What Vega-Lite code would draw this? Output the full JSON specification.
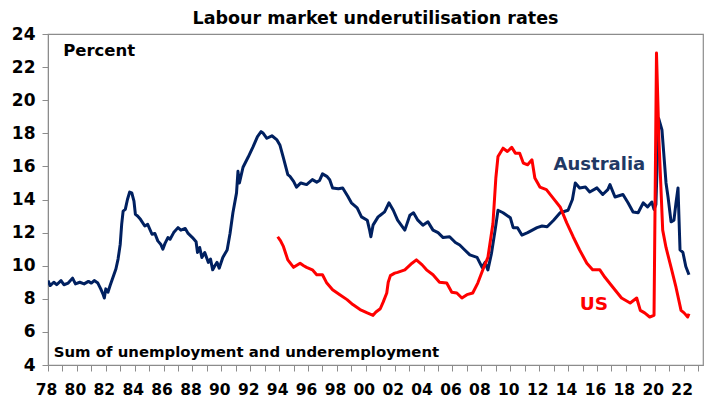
{
  "$schema": "https://vega.github.io/schema/vega-lite/v6.json",
  "width": 655,
  "height": 331,
  "autosize": {"type": "none"},
  "padding": {"left": 48, "top": 34, "right": 17, "bottom": 33},
  "background": "white",
  "config": {"view": {"stroke": "#8c8c8c", "strokeWidth": 1.2}, "axis": {"labelOverlap": false, "labelBound": false, "labelSeparation": -40}},
  "title": {"text": "Labour market underutilisation rates", "font": "DejaVu Sans", "fontSize": 17.5, "fontWeight": "bold", "anchor": "middle", "offset": -2, "color": "black"},
  "datasets": {
    "lines": [
      {"s":"Australia","t":1978.0,"v":9.1},{"s":"Australia","t":1978.15,"v":8.8},{"s":"Australia","t":1978.4,"v":9.0},{"s":"Australia","t":1978.6,"v":8.85},{"s":"Australia","t":1978.9,"v":9.1},{"s":"Australia","t":1979.1,"v":8.85},{"s":"Australia","t":1979.4,"v":8.95},{"s":"Australia","t":1979.7,"v":9.25},{"s":"Australia","t":1979.9,"v":8.9},{"s":"Australia","t":1980.2,"v":9.0},{"s":"Australia","t":1980.5,"v":8.9},{"s":"Australia","t":1980.8,"v":9.05},{"s":"Australia","t":1981.0,"v":8.95},{"s":"Australia","t":1981.2,"v":9.1},{"s":"Australia","t":1981.45,"v":8.95},{"s":"Australia","t":1981.65,"v":8.6},{"s":"Australia","t":1981.8,"v":8.3},{"s":"Australia","t":1981.9,"v":8.05},{"s":"Australia","t":1982.0,"v":8.6},{"s":"Australia","t":1982.15,"v":8.4},{"s":"Australia","t":1982.3,"v":8.8},{"s":"Australia","t":1982.5,"v":9.3},{"s":"Australia","t":1982.7,"v":9.8},{"s":"Australia","t":1982.85,"v":10.4},{"s":"Australia","t":1983.0,"v":11.3},{"s":"Australia","t":1983.1,"v":12.5},{"s":"Australia","t":1983.2,"v":13.3},{"s":"Australia","t":1983.35,"v":13.4},{"s":"Australia","t":1983.5,"v":14.0},{"s":"Australia","t":1983.65,"v":14.45},{"s":"Australia","t":1983.8,"v":14.4},{"s":"Australia","t":1983.95,"v":13.9},{"s":"Australia","t":1984.05,"v":13.1},{"s":"Australia","t":1984.2,"v":13.0},{"s":"Australia","t":1984.4,"v":12.8},{"s":"Australia","t":1984.7,"v":12.4},{"s":"Australia","t":1984.9,"v":12.5},{"s":"Australia","t":1985.2,"v":11.9},{"s":"Australia","t":1985.4,"v":11.95},{"s":"Australia","t":1985.6,"v":11.5},{"s":"Australia","t":1985.8,"v":11.3},{"s":"Australia","t":1985.95,"v":11.0},{"s":"Australia","t":1986.1,"v":11.35},{"s":"Australia","t":1986.3,"v":11.7},{"s":"Australia","t":1986.45,"v":11.6},{"s":"Australia","t":1986.7,"v":12.0},{"s":"Australia","t":1987.0,"v":12.3},{"s":"Australia","t":1987.2,"v":12.15},{"s":"Australia","t":1987.5,"v":12.25},{"s":"Australia","t":1987.7,"v":11.95},{"s":"Australia","t":1988.0,"v":11.7},{"s":"Australia","t":1988.25,"v":11.45},{"s":"Australia","t":1988.35,"v":10.8},{"s":"Australia","t":1988.5,"v":11.1},{"s":"Australia","t":1988.65,"v":10.5},{"s":"Australia","t":1988.85,"v":10.8},{"s":"Australia","t":1989.1,"v":10.2},{"s":"Australia","t":1989.25,"v":10.4},{"s":"Australia","t":1989.4,"v":9.75},{"s":"Australia","t":1989.55,"v":10.0},{"s":"Australia","t":1989.7,"v":10.2},{"s":"Australia","t":1989.85,"v":9.85},{"s":"Australia","t":1990.1,"v":10.5},{"s":"Australia","t":1990.4,"v":10.95},{"s":"Australia","t":1990.6,"v":11.95},{"s":"Australia","t":1990.8,"v":13.2},{"s":"Australia","t":1991.05,"v":14.4},{"s":"Australia","t":1991.15,"v":15.7},{"s":"Australia","t":1991.25,"v":15.0},{"s":"Australia","t":1991.5,"v":15.95},{"s":"Australia","t":1991.85,"v":16.55},{"s":"Australia","t":1992.2,"v":17.2},{"s":"Australia","t":1992.5,"v":17.8},{"s":"Australia","t":1992.75,"v":18.1},{"s":"Australia","t":1992.9,"v":18.0},{"s":"Australia","t":1993.15,"v":17.7},{"s":"Australia","t":1993.5,"v":17.85},{"s":"Australia","t":1993.85,"v":17.6},{"s":"Australia","t":1994.05,"v":17.3},{"s":"Australia","t":1994.3,"v":16.5},{"s":"Australia","t":1994.6,"v":15.5},{"s":"Australia","t":1994.75,"v":15.4},{"s":"Australia","t":1995.0,"v":15.1},{"s":"Australia","t":1995.2,"v":14.75},{"s":"Australia","t":1995.5,"v":15.0},{"s":"Australia","t":1995.9,"v":14.9},{"s":"Australia","t":1996.3,"v":15.2},{"s":"Australia","t":1996.6,"v":15.05},{"s":"Australia","t":1996.8,"v":15.15},{"s":"Australia","t":1997.0,"v":15.55},{"s":"Australia","t":1997.3,"v":15.4},{"s":"Australia","t":1997.5,"v":15.2},{"s":"Australia","t":1997.7,"v":14.7},{"s":"Australia","t":1998.1,"v":14.65},{"s":"Australia","t":1998.4,"v":14.7},{"s":"Australia","t":1998.75,"v":14.2},{"s":"Australia","t":1999.0,"v":13.8},{"s":"Australia","t":1999.4,"v":13.5},{"s":"Australia","t":1999.7,"v":12.95},{"s":"Australia","t":2000.1,"v":12.75},{"s":"Australia","t":2000.25,"v":12.2},{"s":"Australia","t":2000.35,"v":11.75},{"s":"Australia","t":2000.5,"v":12.45},{"s":"Australia","t":2000.85,"v":12.95},{"s":"Australia","t":2001.0,"v":13.05},{"s":"Australia","t":2001.3,"v":13.25},{"s":"Australia","t":2001.6,"v":13.8},{"s":"Australia","t":2001.9,"v":13.35},{"s":"Australia","t":2002.2,"v":12.75},{"s":"Australia","t":2002.7,"v":12.15},{"s":"Australia","t":2003.05,"v":13.05},{"s":"Australia","t":2003.3,"v":13.2},{"s":"Australia","t":2003.6,"v":12.75},{"s":"Australia","t":2003.95,"v":12.45},{"s":"Australia","t":2004.3,"v":12.65},{"s":"Australia","t":2004.65,"v":12.15},{"s":"Australia","t":2005.0,"v":12.0},{"s":"Australia","t":2005.35,"v":11.7},{"s":"Australia","t":2005.8,"v":11.75},{"s":"Australia","t":2006.2,"v":11.4},{"s":"Australia","t":2006.5,"v":11.25},{"s":"Australia","t":2006.85,"v":10.95},{"s":"Australia","t":2007.2,"v":10.65},{"s":"Australia","t":2007.7,"v":10.5},{"s":"Australia","t":2008.05,"v":9.9},{"s":"Australia","t":2008.25,"v":10.2},{"s":"Australia","t":2008.45,"v":9.75},{"s":"Australia","t":2008.7,"v":10.75},{"s":"Australia","t":2008.95,"v":12.15},{"s":"Australia","t":2009.15,"v":13.35},{"s":"Australia","t":2009.5,"v":13.2},{"s":"Australia","t":2010.0,"v":12.9},{"s":"Australia","t":2010.2,"v":12.3},{"s":"Australia","t":2010.5,"v":12.3},{"s":"Australia","t":2010.8,"v":11.85},{"s":"Australia","t":2011.2,"v":12.0},{"s":"Australia","t":2011.85,"v":12.3},{"s":"Australia","t":2012.2,"v":12.4},{"s":"Australia","t":2012.55,"v":12.35},{"s":"Australia","t":2013.0,"v":12.75},{"s":"Australia","t":2013.45,"v":13.2},{"s":"Australia","t":2014.0,"v":13.35},{"s":"Australia","t":2014.3,"v":14.0},{"s":"Australia","t":2014.5,"v":15.0},{"s":"Australia","t":2014.8,"v":14.7},{"s":"Australia","t":2015.2,"v":14.75},{"s":"Australia","t":2015.5,"v":14.45},{"s":"Australia","t":2016.0,"v":14.7},{"s":"Australia","t":2016.4,"v":14.3},{"s":"Australia","t":2016.75,"v":14.6},{"s":"Australia","t":2016.9,"v":14.9},{"s":"Australia","t":2017.25,"v":14.15},{"s":"Australia","t":2017.8,"v":14.3},{"s":"Australia","t":2018.15,"v":13.8},{"s":"Australia","t":2018.5,"v":13.25},{"s":"Australia","t":2018.85,"v":13.2},{"s":"Australia","t":2019.2,"v":13.8},{"s":"Australia","t":2019.5,"v":13.55},{"s":"Australia","t":2019.8,"v":13.85},{"s":"Australia","t":2019.95,"v":13.4},{"s":"Australia","t":2020.08,"v":13.7},{"s":"Australia","t":2020.27,"v":18.9},{"s":"Australia","t":2020.5,"v":18.2},{"s":"Australia","t":2020.78,"v":15.0},{"s":"Australia","t":2020.92,"v":14.15},{"s":"Australia","t":2021.13,"v":12.65},{"s":"Australia","t":2021.33,"v":12.75},{"s":"Australia","t":2021.47,"v":13.8},{"s":"Australia","t":2021.61,"v":14.7},{"s":"Australia","t":2021.75,"v":10.95},{"s":"Australia","t":2021.95,"v":10.8},{"s":"Australia","t":2022.15,"v":9.95},{"s":"Australia","t":2022.37,"v":9.45},
      {"s":"US","t":1993.9,"v":11.75},{"s":"US","t":1994.1,"v":11.5},{"s":"US","t":1994.3,"v":11.15},{"s":"US","t":1994.6,"v":10.35},{"s":"US","t":1995.0,"v":9.9},{"s":"US","t":1995.45,"v":10.15},{"s":"US","t":1995.7,"v":10.0},{"s":"US","t":1995.9,"v":9.9},{"s":"US","t":1996.3,"v":9.75},{"s":"US","t":1996.6,"v":9.45},{"s":"US","t":1997.0,"v":9.45},{"s":"US","t":1997.3,"v":8.95},{"s":"US","t":1997.7,"v":8.55},{"s":"US","t":1998.2,"v":8.25},{"s":"US","t":1998.7,"v":7.95},{"s":"US","t":1999.1,"v":7.65},{"s":"US","t":1999.6,"v":7.35},{"s":"US","t":2000.1,"v":7.15},{"s":"US","t":2000.5,"v":7.0},{"s":"US","t":2000.7,"v":7.2},{"s":"US","t":2001.0,"v":7.4},{"s":"US","t":2001.2,"v":7.8},{"s":"US","t":2001.45,"v":8.35},{"s":"US","t":2001.55,"v":9.0},{"s":"US","t":2001.7,"v":9.4},{"s":"US","t":2002.0,"v":9.55},{"s":"US","t":2002.2,"v":9.6},{"s":"US","t":2002.7,"v":9.75},{"s":"US","t":2003.2,"v":10.15},{"s":"US","t":2003.5,"v":10.35},{"s":"US","t":2003.9,"v":10.05},{"s":"US","t":2004.2,"v":9.75},{"s":"US","t":2004.65,"v":9.45},{"s":"US","t":2005.1,"v":9.0},{"s":"US","t":2005.6,"v":8.95},{"s":"US","t":2005.95,"v":8.4},{"s":"US","t":2006.3,"v":8.35},{"s":"US","t":2006.65,"v":8.05},{"s":"US","t":2007.0,"v":8.25},{"s":"US","t":2007.4,"v":8.35},{"s":"US","t":2007.75,"v":8.95},{"s":"US","t":2008.1,"v":9.75},{"s":"US","t":2008.45,"v":10.5},{"s":"US","t":2008.8,"v":12.55},{"s":"US","t":2009.0,"v":15.3},{"s":"US","t":2009.15,"v":16.6},{"s":"US","t":2009.5,"v":17.1},{"s":"US","t":2009.8,"v":16.9},{"s":"US","t":2010.1,"v":17.15},{"s":"US","t":2010.35,"v":16.8},{"s":"US","t":2010.65,"v":16.8},{"s":"US","t":2010.9,"v":16.2},{"s":"US","t":2011.2,"v":16.1},{"s":"US","t":2011.5,"v":16.4},{"s":"US","t":2011.7,"v":15.3},{"s":"US","t":2012.05,"v":14.75},{"s":"US","t":2012.5,"v":14.6},{"s":"US","t":2012.95,"v":14.1},{"s":"US","t":2013.45,"v":13.55},{"s":"US","t":2013.9,"v":12.6},{"s":"US","t":2014.35,"v":11.75},{"s":"US","t":2014.8,"v":10.95},{"s":"US","t":2015.3,"v":10.15},{"s":"US","t":2015.7,"v":9.75},{"s":"US","t":2016.2,"v":9.75},{"s":"US","t":2016.55,"v":9.3},{"s":"US","t":2017.1,"v":8.7},{"s":"US","t":2017.7,"v":8.05},{"s":"US","t":2018.3,"v":7.75},{"s":"US","t":2018.75,"v":8.05},{"s":"US","t":2019.0,"v":7.3},{"s":"US","t":2019.3,"v":7.15},{"s":"US","t":2019.65,"v":6.9},{"s":"US","t":2019.95,"v":7.0},{"s":"US","t":2020.12,"v":22.85},{"s":"US","t":2020.29,"v":17.6},{"s":"US","t":2020.55,"v":12.15},{"s":"US","t":2020.78,"v":11.1},{"s":"US","t":2021.13,"v":9.9},{"s":"US","t":2021.47,"v":8.7},{"s":"US","t":2021.82,"v":7.3},{"s":"US","t":2022.03,"v":7.15},{"s":"US","t":2022.28,"v":6.9},{"s":"US","t":2022.37,"v":7.1}
    ]
  },
  "encoding": {
    "x": {"field": "t", "type": "quantitative",
          "scale": {"domain": [1978, 2023.34], "nice": false, "zero": false},
          "axis": {"values": [1978,1979,1980,1981,1982,1983,1984,1985,1986,1987,1988,1989,1990,1991,1992,1993,1994,1995,1996,1997,1998,1999,2000,2001,2002,2003,2004,2005,2006,2007,2008,2009,2010,2011,2012,2013,2014,2015,2016,2017,2018,2019,2020,2021,2022,2023],
                   "labelExpr": "datum.value % 2 == 0 ? substring(toString(datum.value), 2, 4) : ''",
                   "labelOffset": -2, "tickSize": 6, "labelPadding": 11,
                   "labelFont": "DejaVu Sans", "labelFontWeight": "bold", "labelFontSize": 15.5, "labelColor": "black",
                   "domainColor": "#8c8c8c", "tickColor": "#8c8c8c", "grid": false, "title": null,
                   "labelFlush": false, "labelOverlap": false, "labelSeparation": -40}},
    "y": {"field": "v", "type": "quantitative",
          "scale": {"domain": [4, 24], "nice": false, "zero": false},
          "axis": {"values": [4,6,8,10,12,14,16,18,20,22,24], "tickSize": 6, "labelPadding": 7,
                   "labelFont": "DejaVu Sans", "labelFontWeight": "bold", "labelFontSize": 17, "labelColor": "black",
                   "domainColor": "#8c8c8c", "tickColor": "#8c8c8c", "grid": false, "title": null,
                   "labelFlush": false, "labelOverlap": false, "labelSeparation": -40}}
  },
  "layer": [
    {
      "data": {"name": "lines"},
      "mark": {"type": "line", "strokeWidth": 3, "strokeJoin": "round", "clip": true},
      "encoding": {
        "color": {"field": "s", "type": "nominal", "scale": {"domain": ["Australia", "US"], "range": ["#002060", "#ff0000"]}, "legend": null},
        "detail": {"field": "s"}
      }
    },
    {
      "data": {"values": [{"t": 1979.05, "v": 22.67, "txt": "Percent"}]},
      "mark": {"type": "text", "align": "left", "baseline": "alphabetic", "font": "DejaVu Sans", "fontWeight": "bold", "fontSize": 16.5, "color": "black"},
      "encoding": {"text": {"field": "txt"}}
    },
    {
      "data": {"values": [{"t": 1978.4, "v": 4.5, "txt": "Sum of unemployment and underemployment"}]},
      "mark": {"type": "text", "align": "left", "baseline": "alphabetic", "font": "DejaVu Sans", "fontWeight": "bold", "fontSize": 14.9, "color": "black"},
      "encoding": {"text": {"field": "txt"}}
    },
    {
      "data": {"values": [{"t": 2013.0, "v": 15.78, "txt": "Australia"}]},
      "mark": {"type": "text", "align": "left", "baseline": "alphabetic", "font": "DejaVu Sans", "fontWeight": "bold", "fontSize": 18, "color": "#1f3864"},
      "encoding": {"text": {"field": "txt"}}
    },
    {
      "data": {"values": [{"t": 2014.8, "v": 7.32, "txt": "US"}]},
      "mark": {"type": "text", "align": "left", "baseline": "alphabetic", "font": "DejaVu Sans", "fontWeight": "bold", "fontSize": 18.5, "color": "#ff0000"},
      "encoding": {"text": {"field": "txt"}}
    }
  ]
}
